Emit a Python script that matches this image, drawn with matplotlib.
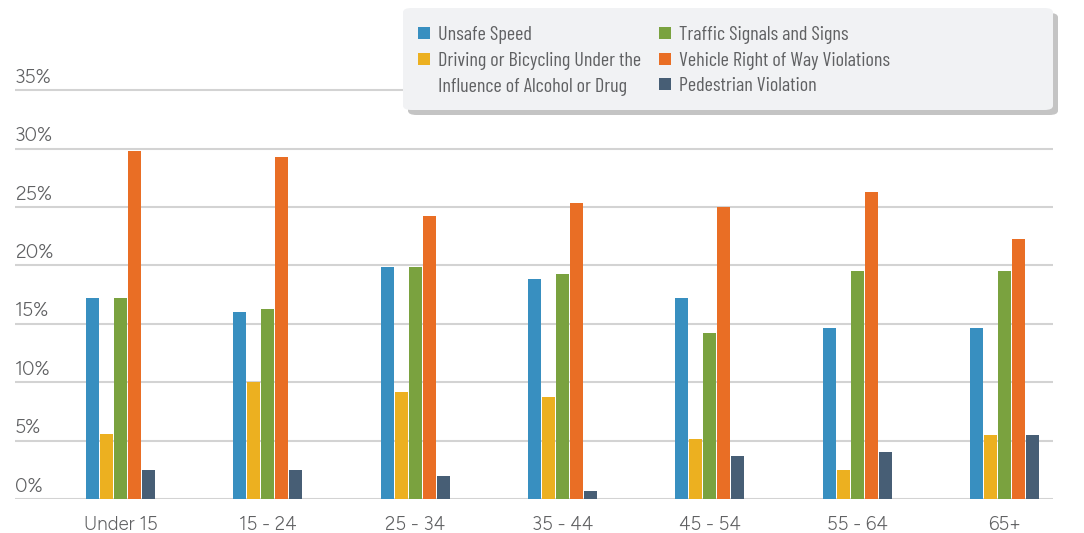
import matplotlib
matplotlib.use("Agg")
import matplotlib.pyplot as plt
from matplotlib.patches import FancyBboxPatch, Rectangle
import numpy as np

plt.rcParams['font.family'] = ['Figtree', 'Lato', 'DejaVu Sans']
LEGEND_FONT = ['Barlow Condensed', 'Lato', 'DejaVu Sans']

age_groups = ["Under 15", "15 - 24", "25 - 34", "35 - 44", "45 - 54", "55 - 64", "65+"]
series_names = [
    "Unsafe Speed",
    "Driving or Bicycling Under the\nInfluence of Alcohol or Drug",
    "Traffic Signals and Signs",
    "Vehicle Right of Way Violations",
    "Pedestrian Violation",
]
unsafe_speed = [17.2, 16.0, 19.9, 18.8, 17.2, 14.6, 14.6]
under_influence = [5.6, 10.0, 9.2, 8.7, 5.1, 2.5, 5.5]
traffic_signals = [17.2, 16.3, 19.9, 19.3, 14.2, 19.5, 19.5]
right_of_way = [29.8, 29.3, 24.2, 25.3, 25.0, 26.3, 22.3]
pedestrian = [2.5, 2.5, 2.0, 0.7, 3.7, 4.0, 5.5]
y_ticks = [0, 5, 10, 15, 20, 25, 30, 35]

series = [unsafe_speed, under_influence, traffic_signals, right_of_way, pedestrian]
colors = ["#388fc0", "#ecb020", "#7aa23f", "#e96e25", "#475e75"]
text_color = "#606163"

W, H = 1084, 533
fig = plt.figure(figsize=(W / 100, H / 100), dpi=100)
fig.patch.set_facecolor("white")

# axes frame in pixel terms: left 15, right 1053, baseline at 499
y_top = 37.0
px_per_pct = 58.4 / 5
top_px = 499 - y_top * px_per_pct
ax = fig.add_axes([15 / W, (H - 499) / H, (1053 - 15) / W, (499 - top_px) / H])
ax.set_facecolor("white")

x = np.arange(len(age_groups))
step = 0.0951
width = 0.0883
for i, (vals, col) in enumerate(zip(series, colors)):
    ax.bar(x + (i - 2) * step, vals, width=width, color=col, zorder=3, linewidth=0)

ax.set_xlim(-0.716, 6.33)
ax.set_ylim(0, y_top)
ax.set_yticks(y_ticks)
ax.yaxis.grid(True, color="#d3d3d3", linewidth=1.5, zorder=0)
ax.set_yticklabels([])
ax.tick_params(axis="y", length=0)
for s in ax.spines.values():
    s.set_visible(False)

for v in y_ticks:
    ax.annotate(f"{v}%", xy=(0, v), xycoords=("axes fraction", "data"),
                xytext=(0, 2.5), textcoords="offset points", ha="left", va="bottom",
                fontsize=14, color=text_color)

ax.set_xticks(x)
ax.set_xticklabels(age_groups, fontsize=13.5, color=text_color)
ax.tick_params(axis="x", length=0, pad=12)


def fx(px):
    return px / W


def fy(py):
    return (H - py) / H


# legend panel with a drop shadow
lx0, ly0, lx1, ly1 = 403, 8, 1053, 110
shadow = FancyBboxPatch((fx(lx0 + 5), fy(ly1 + 5)), fx(lx1 - lx0), (ly1 - ly0) / H,
                        boxstyle="round,pad=0,rounding_size=0.008",
                        transform=fig.transFigure, facecolor="#c4c4c4",
                        edgecolor="none", zorder=5)
panel = FancyBboxPatch((fx(lx0), fy(ly1)), fx(lx1 - lx0), (ly1 - ly0) / H,
                       boxstyle="round,pad=0,rounding_size=0.008",
                       transform=fig.transFigure, facecolor="#f1f2f4",
                       edgecolor="none", zorder=6)
fig.patches.extend([shadow, panel])

# (marker x, text x, first-line centre y, series index)
entries = [
    (418, 438, 35, 0),
    (418, 438, 61, 1),
    (659, 679, 35, 2),
    (659, 679, 61, 3),
    (659, 679, 86, 4),
]
sq = 12
row_gap = 25.5
for mx, tx, cy, idx in entries:
    fig.patches.append(Rectangle((fx(mx), fy(cy - 2 + sq / 2)), fx(sq), sq / H,
                                 transform=fig.transFigure, facecolor=colors[idx],
                                 edgecolor="none", zorder=7))
    for k, line in enumerate(series_names[idx].split("\n")):
        fig.text(fx(tx), fy(cy + k * row_gap), line, ha="left", va="center",
                 fontsize=14.5, color=text_color, zorder=8, family=LEGEND_FONT)

fig.savefig("out.png", dpi=100, facecolor="white")
